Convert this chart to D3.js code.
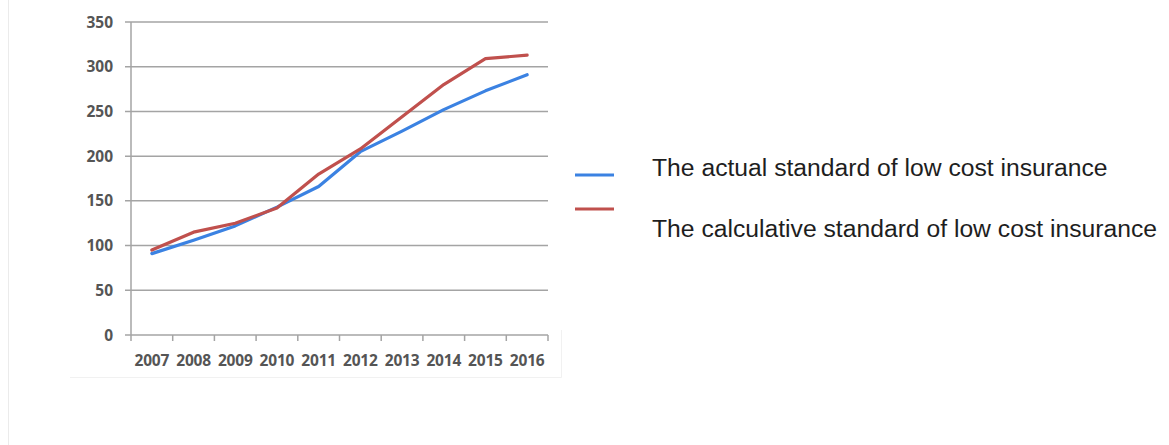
<!DOCTYPE html>
<html>
<head>
<meta charset="utf-8">
<script src="https://cdn.jsdelivr.net/npm/d3@7"></script>
<style>
  body { margin: 0; background: #fff; }
  svg { display: block; }
</style>
</head>
<body>
<svg id="chart" width="1169" height="445"></svg>
<script>
// chart data
const years = ["2007", "2008", "2009", "2010", "2011", "2012", "2013", "2014", "2015", "2016"];
const actualValues = [91, 106, 122, 143, 166, 205, 228, 252, 273, 291];
const calcValues = [95, 115, 125, 142, 180, 208, 244, 280, 309, 313];
const yTicks = [0, 50, 100, 150, 200, 250, 300, 350];
const seriesNames = ["The actual standard of low cost insurance", "The calculative standard of low cost insurance"];
const seriesColors = ["#3b82e2", "#c0504d"];

var svg = d3.select("#chart");

// faint page frame
svg.append("line")
  .attr("x1", 8.5).attr("x2", 8.5).attr("y1", 0).attr("y2", 445)
  .style("stroke", "#ebebeb").style("stroke-width", 1);
svg.append("path")
  .attr("d", "M70,377.5 H561.5 V330")
  .style("fill", "none")
  .style("stroke", "#f1f1f1").style("stroke-width", 1);

let plotLeft = 131, plotRight = 548, plotTop = 22, plotBottom = 335;

var x = d3.scaleBand().domain(years).range([plotLeft, plotRight]);
var y = d3.scaleLinear().domain([0, 350]).range([plotBottom, plotTop]);

// grid lines
svg.selectAll(".grid")
  .data(yTicks)
  .enter()
  .append("line")
    .attr("class", "grid")
    .attr("x1", plotLeft - 6)
    .attr("x2", plotRight)
    .attr("y1", function(d){ return y(d) })
    .attr("y2", function(d){ return y(d) })
    .style("stroke", "#a4a4a4")
    .style("stroke-width", 1.5);

// y axis line
svg.append("line")
  .attr("x1", plotLeft).attr("x2", plotLeft)
  .attr("y1", plotTop).attr("y2", plotBottom)
  .style("stroke", "#a4a4a4").style("stroke-width", 1.5);

// x tick marks at band edges
let edges = years.map(function(d){ return x(d) }).concat([plotRight]);
svg.selectAll(".xtick")
  .data(edges)
  .enter()
  .append("line")
    .attr("x1", function(d){ return d })
    .attr("x2", function(d){ return d })
    .attr("y1", plotBottom)
    .attr("y2", plotBottom + 6)
    .style("stroke", "#a4a4a4")
    .style("stroke-width", 1.5);

// y labels
svg.selectAll(".ylabel")
  .data(yTicks)
  .enter()
  .append("text")
    .attr("x", plotLeft - 18)
    .attr("y", function(d){ return y(d) })
    .attr("dy", "0.36em")
    .attr("text-anchor", "end")
    .text(function(d){ return d })
    .style("font-family", "Open Sans")
    .style("font-weight", "bold")
    .style("font-size", "15.5px")
    .style("fill", "#555");

// x labels
svg.selectAll(".xlabel")
  .data(years)
  .enter()
  .append("text")
    .attr("x", function(d){ return x(d) + x.bandwidth() / 2 })
    .attr("y", 366)
    .attr("text-anchor", "middle")
    .text(function(d){ return d })
    .style("font-family", "Open Sans")
    .style("font-weight", "bold")
    .style("font-size", "15.5px")
    .style("letter-spacing", "-0.2px")
    .style("fill", "#555");

// series lines
var line = d3.line()
  .x(function(d, i){ return x(years[i]) + x.bandwidth() / 2 })
  .y(function(d){ return y(d) });

[actualValues, calcValues].forEach(function(vals, k) {
  svg.append("path")
    .datum(vals)
    .attr("d", line)
    .style("fill", "none")
    .style("stroke", seriesColors[k])
    .style("stroke-width", 3.2)
    .style("stroke-linejoin", "round")
    .style("stroke-linecap", "round");
});

// legend
let legendY = [175, 209];
let textY = [176, 237];
let g = svg.append("g").attr("class", "legend");

g.selectAll(".legend-line")
  .data(seriesNames)
  .enter()
  .append("line")
    .attr("x1", 575).attr("x2", 614)
    .attr("y1", function(d, i){ return legendY[i] })
    .attr("y2", function(d, i){ return legendY[i] })
    .style("stroke", function(d, i){ return seriesColors[i] })
    .style("stroke-width", 3);

g.selectAll(".legend-text")
  .data(seriesNames)
  .enter()
  .append("text")
    .attr("x", 652)
    .attr("y", function(d, i){ return textY[i] })
    .text(function(d){ return d })
    .style("font-family", "Liberation Sans")
    .style("font-size", "24.7px")
    .style("fill", "#1e1e1e");
</script>
</body>
</html>
